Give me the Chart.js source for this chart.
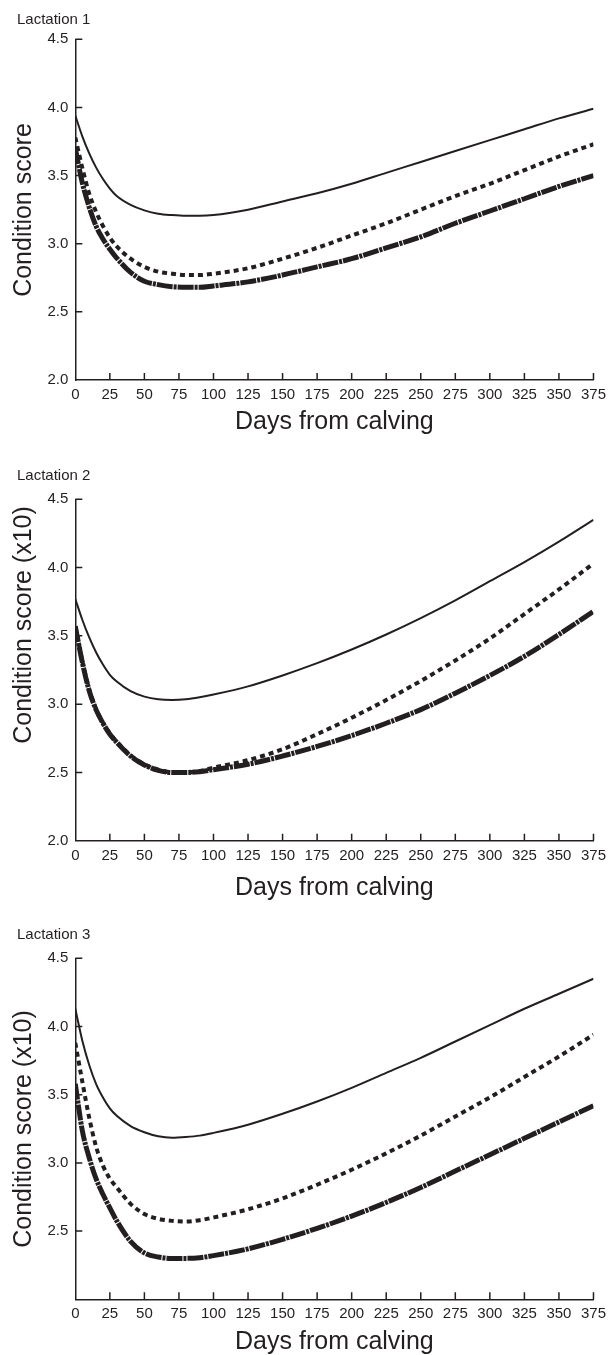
<!DOCTYPE html>
<html>
<head>
<meta charset="utf-8">
<script src="https://cdn.jsdelivr.net/npm/chart.js@4.4.1/dist/chart.umd.min.js"></script>
<style>
  html, body { margin: 0; padding: 0; background: #fff; overflow: hidden; }
  canvas { position: absolute; left: 0; }
</style>
</head>
<body>
<canvas id="lac1" width="612" height="440" style="top:0px"></canvas>
<canvas id="lac2" width="612" height="454" style="top:452px"></canvas>
<canvas id="lac3" width="612" height="445" style="top:910px"></canvas>
<script>
// days from calving at which the curves were read
const days = [0, 5, 10, 15, 20, 25, 30, 40, 50, 60, 70, 80, 90, 100, 125, 150, 175, 200, 225, 250, 275, 300, 325, 350, 375];

// lactation 1
const lac1Solid  = [3.94, 3.79, 3.665, 3.56, 3.475, 3.405, 3.35, 3.285, 3.245, 3.22, 3.21, 3.205, 3.205, 3.21, 3.25, 3.31, 3.37, 3.44, 3.52, 3.60, 3.68, 3.76, 3.84, 3.92, 3.99];
const lac1Dotted = [3.78, 3.56, 3.37, 3.235, 3.13, 3.045, 2.98, 2.89, 2.83, 2.795, 2.78, 2.77, 2.77, 2.78, 2.82, 2.89, 2.97, 3.06, 3.15, 3.25, 3.35, 3.44, 3.54, 3.64, 3.73];
const lac1Thick  = [3.70, 3.45, 3.27, 3.13, 3.035, 2.96, 2.895, 2.79, 2.725, 2.70, 2.685, 2.68, 2.68, 2.69, 2.72, 2.77, 2.83, 2.89, 2.97, 3.05, 3.15, 3.24, 3.33, 3.42, 3.50];

// lactation 2
const lac2Solid  = [3.77, 3.62, 3.49, 3.38, 3.29, 3.215, 3.165, 3.095, 3.055, 3.035, 3.03, 3.035, 3.05, 3.07, 3.13, 3.21, 3.30, 3.40, 3.51, 3.63, 3.76, 3.90, 4.04, 4.19, 4.35];
const lac2Dotted = [3.57, 3.32, 3.11, 2.965, 2.865, 2.785, 2.725, 2.625, 2.56, 2.52, 2.50, 2.50, 2.51, 2.535, 2.59, 2.67, 2.78, 2.90, 3.03, 3.17, 3.32, 3.48, 3.66, 3.84, 4.03];
const lac2Thick  = [3.57, 3.31, 3.10, 2.96, 2.86, 2.78, 2.72, 2.62, 2.555, 2.515, 2.50, 2.50, 2.505, 2.52, 2.56, 2.62, 2.69, 2.77, 2.86, 2.96, 3.08, 3.21, 3.35, 3.51, 3.68];

// lactation 3
const lac3Solid  = [4.13, 3.90, 3.72, 3.58, 3.48, 3.40, 3.345, 3.27, 3.225, 3.195, 3.185, 3.19, 3.20, 3.22, 3.28, 3.36, 3.45, 3.55, 3.66, 3.77, 3.89, 4.01, 4.13, 4.24, 4.35];
const lac3Dotted = [3.88, 3.60, 3.335, 3.12, 2.98, 2.885, 2.82, 2.70, 2.625, 2.59, 2.575, 2.57, 2.58, 2.60, 2.66, 2.74, 2.84, 2.95, 3.07, 3.20, 3.34, 3.48, 3.63, 3.78, 3.94];
const lac3Thick  = [3.58, 3.24, 3.04, 2.885, 2.77, 2.67, 2.575, 2.425, 2.34, 2.31, 2.30, 2.30, 2.305, 2.32, 2.37, 2.44, 2.52, 2.61, 2.71, 2.82, 2.94, 3.06, 3.18, 3.30, 3.42];

// tick labels
const xTicks = [0, 25, 50, 75, 100, 125, 150, 175, 200, 225, 250, 275, 300, 325, 350, 375];
const yTicks = [2.0, 2.5, 3.0, 3.5, 4.0, 4.5];
const yTicks3 = [2.5, 3.0, 3.5, 4.0, 4.5];

const ink = '#231f20';
const family = "'Liberation Sans', Arial, Helvetica, sans-serif";

// inward tick marks + rotated y title
const axisDecor = {
  id: 'axisDecor',
  afterDraw(chart, args, opts) {
    const { ctx, chartArea: a, scales: { x, y } } = chart;
    ctx.save();
    ctx.strokeStyle = ink;
    ctx.lineWidth = 1.5;
    ctx.beginPath();
    x.ticks.forEach(t => {
      if (t.value === 0) return;
      const px = x.getPixelForValue(t.value);
      ctx.moveTo(px, a.bottom);
      ctx.lineTo(px, a.bottom - 7);
    });
    y.ticks.forEach(t => {
      if (t.value === 2) return;
      const py = y.getPixelForValue(t.value);
      ctx.moveTo(a.left, py);
      ctx.lineTo(a.left + 7, py);
    });
    ctx.stroke();

    ctx.translate(opts.x, opts.y);
    ctx.rotate(-Math.PI / 2);
    ctx.font = '25px ' + family;
    ctx.fillStyle = ink;
    ctx.textAlign = 'center';
    ctx.textBaseline = 'middle';
    ctx.fillText(opts.text, 0, 0);
    ctx.restore();
  }
};

function makeChart(id, o) {
  const ctx = document.getElementById(id).getContext('2d');
  return new Chart(ctx, {
    type: 'line',
    data: {
      datasets: [
        { data: o.solid, borderColor: ink, borderWidth: 2 },
        { data: o.dotted, borderColor: ink, borderWidth: 4, borderDash: [5, 4] },
        { data: o.thick, borderColor: ink, borderWidth: 5, borderDash: [16, 1, 3, 1] }
      ].map(d => Object.assign(d, {
        pointRadius: 0,
        fill: false,
        cubicInterpolationMode: 'monotone',
        borderCapStyle: 'butt'
      }))
    },
    options: {
      responsive: false,
      animation: false,
      devicePixelRatio: 1,
      layout: { padding: { left: 17, right: 0, top: 0, bottom: 0 } },
      plugins: {
        legend: { display: false },
        tooltip: { enabled: false },
        title: {
          display: true,
          text: o.title,
          align: 'start',
          color: ink,
          font: { family: family, size: 15, weight: 'normal', lineHeight: 1 },
          padding: o.titlePad
        },
        axisDecor: { text: o.yTitle, x: 24, y: o.yTitleY }
      },
      scales: {
        x: {
          type: 'linear',
          min: 0,
          max: 375,
          afterBuildTicks: s => { s.ticks = xTicks.map(v => ({ value: v })); },
          afterFit: s => { s.height = o.xHeight; },
          grid: { drawOnChartArea: false, drawTicks: false },
          border: { display: true, color: ink, width: 1.5 },
          ticks: {
            color: ink,
            padding: 6,
            maxRotation: 0,
            autoSkip: false,
            font: { family: family, size: 15 }
          },
          title: {
            display: true,
            text: 'Days from calving',
            color: ink,
            font: { family: family, size: 25, lineHeight: 1 },
            padding: { top: 0, bottom: o.xTitlePad }
          }
        },
        y: {
          min: 2,
          max: 4.5,
          afterBuildTicks: s => { s.ticks = o.yTicks.map(v => ({ value: v })); },
          afterFit: s => { s.width = 58.3; },
          grid: { drawOnChartArea: false, drawTicks: false },
          border: { display: true, color: ink, width: 1.5 },
          ticks: {
            color: ink,
            padding: 7,
            font: { family: family, size: 15 },
            callback: v => v.toFixed(1)
          }
        }
      }
    },
    plugins: [axisDecor]
  });
}

const lineData = (xs, ys) => xs.map((d, i) => ({ x: d, y: ys[i] }));

makeChart('lac1', {
  title: 'Lactation 1',
  titlePad: { top: 12, bottom: 12.3 },
  yTitle: 'Condition score',
  yTitleY: 210,
  yTicks: yTicks,
  xHeight: 60,
  xTitlePad: 5.5,
  solid: lineData(days, lac1Solid),
  dotted: lineData(days, lac1Dotted),
  thick: lineData(days, lac1Thick)
});

makeChart('lac2', {
  title: 'Lactation 2',
  titlePad: { top: 16.5, bottom: 15.8 },
  yTitle: 'Condition score (x10)',
  yTitleY: 173,
  yTicks: yTicks,
  xHeight: 65.3,
  xTitlePad: 5.5,
  solid: lineData(days, lac2Solid),
  dotted: lineData(days, lac2Dotted),
  thick: lineData(days, lac2Thick)
});

makeChart('lac3', {
  title: 'Lactation 3',
  titlePad: { top: 17.5, bottom: 15.8 },
  yTitle: 'Condition score (x10)',
  yTitleY: 219,
  yTicks: yTicks3,
  xHeight: 55.7,
  xTitlePad: 0,
  solid: lineData(days, lac3Solid),
  dotted: lineData(days, lac3Dotted),
  thick: lineData(days, lac3Thick)
});
</script>
</body>
</html>
